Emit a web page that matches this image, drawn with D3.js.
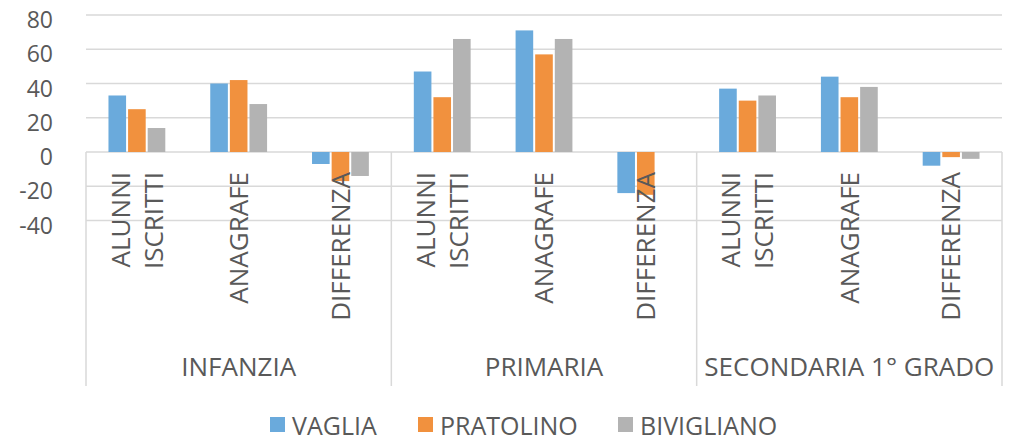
<!DOCTYPE html>
<html>
<head>
<meta charset="utf-8">
<script src="https://cdn.jsdelivr.net/npm/d3@7"></script>
<style>
  html, body { margin: 0; padding: 0; background: #fff; }
  svg { display: block; font-family: "Open Sans", sans-serif; }
</style>
</head>
<body>
<svg id="chart" width="1009" height="441"></svg>
<script>
// Scuole: gruppi e voci per gruppo
const groups = ["INFANZIA", "PRIMARIA", "SECONDARIA 1° GRADO"];
const items = [["ALUNNI", "ISCRITTI"], ["ANAGRAFE"], ["DIFFERENZA"]];
const seriesNames = ["VAGLIA", "PRATOLINO", "BIVIGLIANO"];
const seriesColors = ["#6aaadc", "#f1913e", "#b3b3b3"];

// Valori per serie, nell'ordine gruppo × voce
const vaglia     = [33, 40, -7,  47, 71, -24,  37, 44, -8];
const pratolino  = [25, 42, -17, 32, 57, -25,  30, 32, -3];
const bivigliano = [14, 28, -14, 66, 66, 0,    33, 38, -4];
const yTicks = [-40, -20, 0, 20, 40, 60, 80];

const series = [vaglia, pratolino, bivigliano];
const svg = d3.select("#chart");
const left = 86, right = 1002;
const textColor = "#595959", gridColor = "#d9d9d9";

const cats = d3.range(groups.length * items.length);
const x = d3.scaleBand().domain(cats).range([left, right]).paddingInner(0).paddingOuter(0);
const gapRatio = 2.19;
const slot = x.bandwidth() / (series.length + gapRatio);
const xs = d3.scaleBand().domain(d3.range(series.length))
  .range([0, slot * series.length]);
const y = d3.scaleLinear().domain([-40, 80]).range([220.5, 15]);

// griglia orizzontale
svg.append("g").selectAll("line").data(yTicks).join("line")
  .attr("x1", left).attr("x2", right)
  .attr("y1", d => y(d)).attr("y2", d => y(d))
  .attr("stroke", gridColor).attr("stroke-width", 1.5);

// etichette asse y (trattino semplice per i negativi)
const yAxis = d3.axisLeft(y).tickValues(yTicks).tickSize(0).tickPadding(0)
  .tickFormat(d => String(d));
const gy = svg.append("g").attr("transform", "translate(53,0)").call(yAxis);
gy.select(".domain").remove();
gy.selectAll("text")
  .attr("fill", textColor).attr("font-size", 23)
  .attr("font-family", "'Open Sans', sans-serif")
  .attr("dy", "0.55em");

// barre
series.forEach((vals, si) => {
  svg.append("g").selectAll("rect").data(cats).join("rect")
    .attr("x", c => x(c) + (x.bandwidth() - slot * series.length) / 2 + xs(si) + 1)
    .attr("width", xs.bandwidth() - 2)
    .attr("y", c => Math.min(y(vals[c]), y(0)))
    .attr("height", c => Math.abs(y(vals[c]) - y(0)))
    .attr("fill", seriesColors[si]);
});

// separatori dei gruppi
const sepX = d3.range(groups.length + 1).map(g => g === groups.length ? right : x(g * items.length));
svg.append("g").selectAll("line").data(sepX).join("line")
  .attr("x1", d => d).attr("x2", d => d)
  .attr("y1", y(0)).attr("y2", 386)
  .attr("stroke", gridColor).attr("stroke-width", 1.5);

// etichette delle voci, ruotate
cats.forEach(c => {
  const lines = items[c % items.length];
  const cx = x(c) + x.bandwidth() / 2;
  const lh = 33;
  lines.forEach((ln, li) => {
    const off = (li - (lines.length - 1) / 2) * lh;
    svg.append("text")
      .attr("transform", `translate(${cx + off},172) rotate(-90)`)
      .attr("text-anchor", "end")
      .attr("dy", "0.36em")
      .attr("fill", textColor).attr("font-size", 26)
      .text(ln);
  });
});

// etichette dei gruppi
svg.append("g").selectAll("text").data(groups).join("text")
  .attr("x", (g, i) => (sepX[i] + sepX[i + 1]) / 2)
  .attr("y", 376)
  .attr("text-anchor", "middle")
  .attr("fill", textColor).attr("font-size", 26)
  .text(d => d);

// legenda
const legendX = [270, 418, 618];
const lg = svg.append("g").selectAll("g").data(seriesNames).join("g")
  .attr("transform", (d, i) => `translate(${legendX[i]},0)`);
lg.append("rect").attr("x", 0).attr("y", 417).attr("width", 15).attr("height", 15)
  .attr("fill", (d, i) => seriesColors[i]);
lg.append("text").attr("x", 22).attr("y", 434.5)
  .attr("fill", textColor).attr("font-size", 25)
  .text(d => d);
</script>
</body>
</html>
